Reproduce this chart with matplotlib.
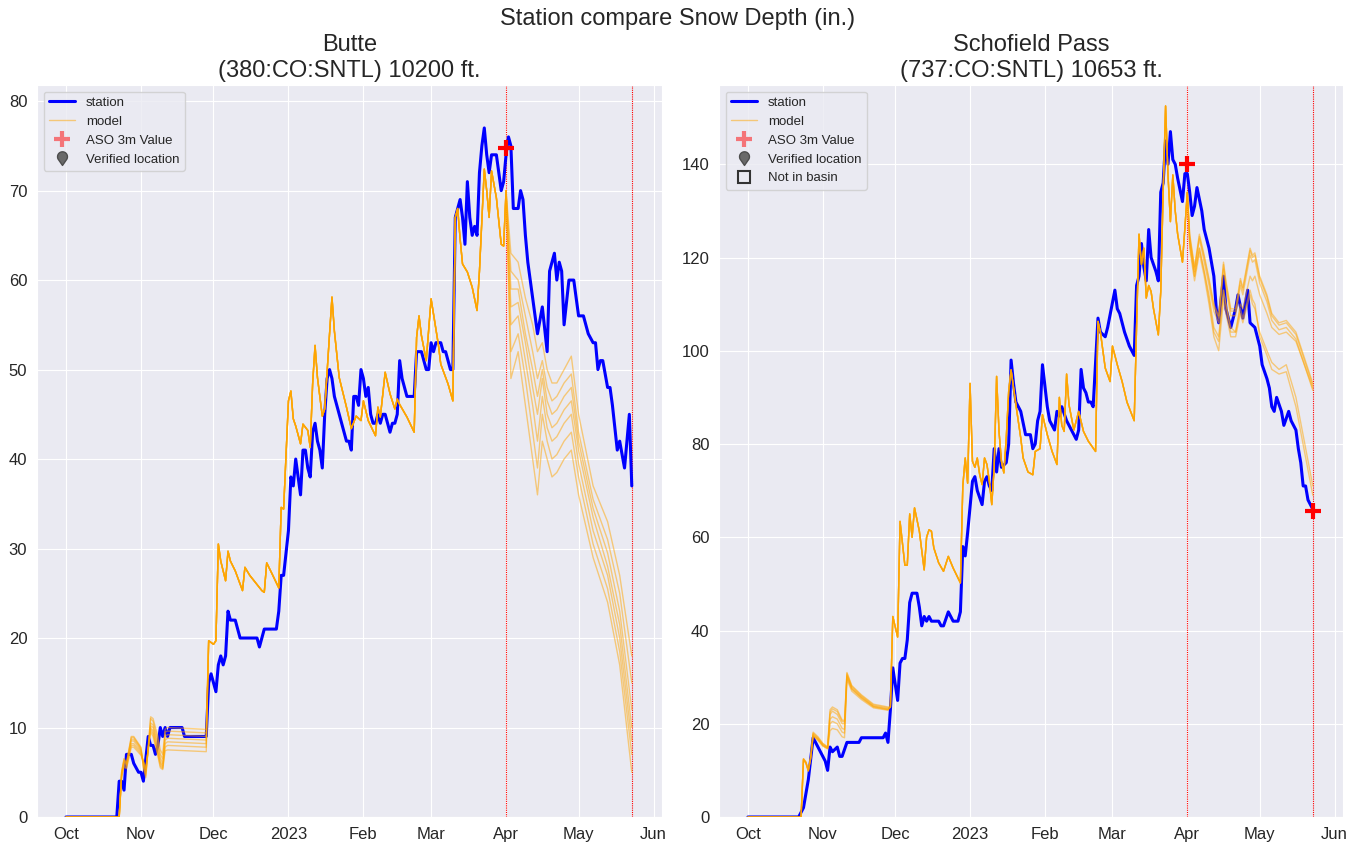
import numpy as np
import pandas as pd
import matplotlib
matplotlib.use("Agg")
import matplotlib.pyplot as plt
import matplotlib.dates as mdates
import seaborn as sns
from matplotlib.lines import Line2D
from matplotlib.path import Path

sns.set_style("darkgrid")
plt.rcParams['font.family'] = ['Liberation Sans', 'DejaVu Sans']

start = pd.Timestamp("2022-10-01")

# ---- Butte (380:CO:SNTL) ----  days counted from 1 Oct 2022, snow depth in inches
butte_station_day = [0, 21, 22, 23, 24, 25, 27, 28, 30, 31, 32, 34, 35, 36, 37, 38, 39, 40, 41, 42, 43, 48, 49, 58,
                     59, 60, 61, 62, 63, 64, 65, 66, 67, 68, 70, 71, 72, 79, 80, 82, 87, 88, 89, 90, 92, 93, 94, 95,
                     97, 98, 99, 100, 101, 102, 103, 104, 105, 106, 107, 108, 109, 110, 111, 113, 116, 117, 118, 119,
                     120, 121, 122, 123, 124, 125, 126, 127, 128, 129, 130, 131, 132, 133, 134, 135, 136, 137, 138,
                     139, 141, 144, 145, 147, 148, 149, 150, 151, 152, 153, 155, 156, 157, 159, 160, 161, 162, 163,
                     164, 165, 166, 167, 168, 169, 170, 171, 172, 173, 174, 175, 176, 178, 179, 180, 181, 182, 183,
                     184, 185, 187, 188, 189, 190, 191, 193, 195, 197, 199, 200, 202, 203, 204, 205, 206, 208, 210,
                     212, 214, 215, 216, 218, 219, 220, 221, 222, 224, 225, 226, 228, 229, 231, 232, 233, 234]
butte_station_val = [0, 0, 4, 4, 3, 7, 7, 6, 5, 5, 4, 9, 8, 8, 7, 8, 10, 9, 10, 9, 10, 10, 9, 9,
                     15, 16, 15, 14, 17, 18, 17, 18, 23, 22, 22, 21, 20, 20, 19, 21, 21, 23, 27, 27, 32, 38, 37, 40,
                     36, 41, 41, 39, 38, 43, 44, 42, 41, 39, 45, 49, 50, 49, 47, 45, 42, 42, 41, 47,
                     47, 46, 50, 49, 47, 48, 45, 44, 44, 45, 44, 45, 45, 44, 43, 44, 44, 45, 51,
                     49, 47, 47, 52, 52, 51, 50, 50, 53, 52, 53, 53, 52, 52, 50, 50, 67, 68, 69,
                     67, 64, 71, 67, 65, 66, 65, 72, 75, 77, 74, 72, 74, 74, 72, 70, 71, 74, 76,
                     75, 68, 68, 70, 69, 65, 62, 58, 54, 57, 52, 61, 63, 60, 62, 61, 55, 60, 60,
                     56, 56, 55, 54, 53, 53, 50, 51, 51, 48, 48, 46, 41, 42, 39, 42, 45, 37]

# model members: early season (spread), shared mid season, spread after 1 April
butte_model_early_day = [0, 22, 23, 24, 25, 27, 28, 30, 31, 32, 33, 35, 36, 38, 39, 40, 41, 42, 58]
butte_model_early = [
    [0, 0, 5, 6.5, 6, 9, 9, 8.2, 7.8, 5.5, 4.4, 11.2, 11, 9, 7.5, 7, 9.8, 10, 9.8],
    [0, 0, 5, 6.5, 6, 8.9, 8.9, 8.1, 7.7, 5.6, 4.6, 11, 10.7, 8.5, 7, 6.5, 9.5, 9.6, 9.4],
    [0, 0, 5, 6.3, 5.9, 8.7, 8.7, 8, 7.5, 5.8, 4.8, 10.5, 10.3, 8, 6.6, 6, 9, 9.2, 9],
    [0, 0, 4.8, 6.2, 5.8, 8.5, 8.5, 7.8, 7.4, 6, 5, 10.2, 10, 7.6, 6.2, 5.7, 8.6, 8.8, 8.6],
    [0, 0, 4.8, 6, 5.7, 8.2, 8.2, 7.6, 7.2, 6.1, 5.2, 10, 9.6, 7.3, 6, 5.5, 8.2, 8.4, 8.2],
    [0, 0, 4.6, 5.8, 5.5, 8, 8, 7.4, 7, 6.2, 5.4, 9.8, 9.3, 7, 5.7, 5.4, 7.8, 8, 7.8],
    [0, 0, 4.5, 5.6, 5.4, 7.8, 7.8, 7.2, 6.9, 6.3, 5.5, 9.5, 9, 6.8, 5.5, 5.3, 7.4, 7.5, 7.3],
]
butte_model_mid_day = [59, 61, 62, 63, 64, 66, 67, 68, 70, 73, 74, 76, 81, 82, 83, 85, 88, 89, 90, 92, 93, 94,
                       95, 97, 98, 100, 101, 102, 103, 104, 106, 107, 109, 110, 111, 113, 116, 118, 120, 122,
                       123, 125, 128, 129, 130, 132, 134, 136, 137, 138, 141, 144, 145, 146, 147, 149, 151, 152,
                       154, 155, 158, 160, 161, 162, 163, 164, 166, 168, 170, 171, 173, 174, 175, 176, 178, 179,
                       180, 181]
butte_model_mid_val = [19.7, 19.3, 19.7, 30.5, 28.6, 26.4, 29.7, 28.6, 27.5, 25.3, 27.9, 27, 25.3, 25.1, 28.4,
                       27.3, 25.6, 34.6, 34.4, 46.5, 47.6, 44.5, 43.7, 41.7, 43.9, 43.2, 41.3, 48.4, 52.7, 49.1,
                       44.8, 45.6, 54, 58.1, 54.3, 49.1, 45.8, 43.4, 44.8, 44.3, 46.5, 44.3, 42.6, 45.8, 44.7,
                       49.7, 47.3, 45.6, 46.7, 46.1, 44.7, 43, 53.6, 56, 53.8, 51, 57.9, 56.2, 52.8, 50.6, 48.4,
                       46.5, 67, 68, 64.6, 61.8, 60.9, 59.2, 56.6, 61, 72.4, 70, 67, 72.2, 69.2, 66.6, 64, 63.8]
butte_model_post_day = [182, 184, 187, 190, 193, 195, 197, 199, 201, 203, 206, 209, 212, 218, 224, 229, 234]
butte_model_post = [
    [70, 63, 62, 58, 55, 52, 53, 50, 48.5, 48.5, 50, 51.5, 45, 37, 33, 27, 18],
    [70, 61, 60, 56, 52, 49, 51, 48, 46.5, 47, 48.5, 49.5, 43, 35.5, 31, 25, 15],
    [70, 59, 59, 54, 50, 47, 50, 46.5, 45, 45.5, 47, 48, 42, 34.5, 29.5, 23, 12],
    [70, 57, 57.5, 53, 48, 45, 49, 45, 43.5, 44, 45.5, 46.5, 41, 33.5, 28, 21.5, 10],
    [70, 55, 56, 51, 46, 42, 47, 43.5, 42, 42.5, 44, 45, 39.5, 32, 27, 20, 8.5],
    [70, 52, 54, 49, 43, 39, 45, 42, 40, 40.5, 42, 43, 38, 30.5, 25.5, 18.5, 7],
    [70, 49, 52, 46, 40, 36, 42, 40, 38, 38.5, 40, 41, 36, 29, 24, 17, 5],
]
butte_aso_day = [182]
butte_aso_val = [74.8]

# ---- Schofield Pass (737:CO:SNTL) ----
scho_station_day = [0, 21, 23, 25, 27, 29, 31, 32, 33, 34, 35, 37, 38, 39, 41, 46, 47, 56, 57, 58, 59, 60, 62, 63,
                    64, 65, 66, 67, 68, 70, 71, 72, 73, 74, 75, 76, 79, 80, 81, 83, 85, 87, 88, 89, 90, 91, 93,
                    94, 95, 97, 98, 99, 100, 101, 102, 103, 104, 105, 107, 108, 109, 110, 111, 113, 115, 117, 118,
                    119, 120, 121, 122, 124, 125, 127, 128, 129, 130, 132, 134, 136, 137, 138, 139, 140, 141, 142,
                    143, 145, 146, 148, 149, 152, 153, 154, 156, 158, 160, 161, 162, 163, 164, 165, 166, 167, 169,
                    170, 171, 172, 173, 174, 175, 176, 177, 178, 180, 181, 182, 183, 184, 185, 186, 188, 189, 191,
                    193, 194, 195, 197, 198, 200, 202, 203, 205, 207, 208, 210, 212, 213, 215, 216, 217, 218, 219,
                    221, 222, 224, 225, 227, 228, 229, 230, 231, 232, 234]
scho_station_val = [0, 0, 2, 8, 17, 15, 13, 12, 10, 15, 14, 15, 13, 13, 16, 16, 17, 17, 18, 16, 23, 32, 25, 33,
                    34, 34, 38, 46, 48, 48, 45, 41, 43, 42, 43, 42, 42, 41, 41, 44, 42, 42, 44, 58, 56, 61, 72,
                    73, 70, 67, 72, 73, 71, 70, 79, 74, 79, 75, 76, 80, 98, 93, 89, 87, 82, 82, 79,
                    80, 85, 87, 97, 88, 85, 83, 87, 86, 88, 85, 83, 81, 83, 96, 92, 91, 89, 89,
                    88, 107, 104, 103, 105, 113, 109, 108, 104, 101, 99, 114, 116, 123, 118, 115, 126, 120, 117,
                    115, 134, 136, 145, 140, 147, 141, 140, 137, 132, 138, 138, 134, 129, 131, 135, 130, 126, 122,
                    116, 109, 106, 116, 109, 105, 109, 112, 107, 113, 106, 105, 101, 97, 94, 92, 88, 87, 90,
                    87, 84, 87, 85, 83, 79, 76, 71, 71, 68, 66]

scho_model_early_day = [0, 22, 23, 24, 25, 26, 27, 29, 31, 33, 34, 35, 37, 39, 40, 41, 43, 47, 52, 58]
scho_model_early = [
    [0, 0, 12.5, 11.8, 10, 13, 18.2, 17.2, 15.8, 15, 23, 23.6, 23, 20.8, 20.7, 31, 28.2, 26.2, 24.2, 23.6],
    [0, 0, 12.5, 11.8, 10, 13, 18, 17, 15.7, 15, 22.5, 23.2, 22.6, 20.5, 20.4, 30.8, 28, 26, 24, 23.4],
    [0, 0, 12.4, 11.7, 10, 12.8, 17.8, 16.8, 15.5, 14.8, 22, 22.7, 22, 20, 20, 30.5, 27.7, 25.8, 23.8, 23.2],
    [0, 0, 12.3, 11.6, 9.9, 12.6, 17.6, 16.7, 15.4, 14.8, 21, 21.5, 21, 19, 18.8, 30.2, 27.5, 25.6, 23.7, 23.1],
    [0, 0, 12.2, 11.5, 9.8, 12.5, 17.3, 16.4, 15.2, 14.6, 18.5, 19, 18.7, 17.2, 17, 29.5, 27, 25.2, 23.4, 22.9],
    [0, 0, 12.3, 11.6, 9.9, 12.7, 17.5, 16.6, 15.3, 14.7, 20, 20.5, 20, 18.2, 18, 30, 27.4, 25.5, 23.6, 23],
]
scho_model_mid_day = [59, 60, 62, 63, 65, 66, 67, 68, 69, 71, 73, 74, 75, 76, 77, 79, 81, 83, 85, 88, 89, 90, 91,
                      92, 93, 94, 95, 96, 97, 98, 99, 100, 101, 102, 103, 104, 105, 106, 107, 108, 109, 111, 113,
                      114, 116, 118, 119, 121, 122, 124, 126, 128, 129, 130, 131, 132, 133, 135, 137, 139, 141,
                      144, 145, 146, 148, 150, 151, 153, 155, 157, 160, 161, 162, 163, 164, 165, 166, 167, 168,
                      170, 171, 172, 173, 174, 175, 176, 177, 178, 180, 181]
scho_model_mid_val = [23.6, 43, 38.6, 63.4, 54, 54, 65, 60, 66.3, 61.3, 53, 60, 61.6, 61.3, 57.7, 54.5, 52.7,
                      55.9, 53.4, 50.2, 71, 77, 71.6, 93, 76.3, 75, 77, 73.4, 71.3, 77, 75.6, 72, 67, 75, 94.5,
                      82.7, 76.3, 73.8, 81.3, 91.3, 95.9, 88.4, 81.3, 77, 74, 73.4, 78.4, 79, 86.3, 82, 78.4,
                      75.6, 90, 84, 82.7, 95, 88.4, 83, 87, 82.7, 80.6, 78.4, 106.3, 104, 96.3, 93.4, 101, 97,
                      93.4, 89, 85, 105.5, 125, 118.5, 122, 111.3, 114, 112.7, 109, 103.4, 112.7, 134, 152.5,
                      137.7, 127.7, 137.7, 130, 125, 119, 126.3]
scho_model_post_day = [182, 183, 185, 187, 189, 191, 193, 195, 197, 198, 200, 202, 204, 205, 208, 209, 210, 212,
                       215, 217, 220, 223, 227, 234]
scho_model_post = [
    [134, 125, 118, 125, 120.5, 115.5, 110, 107.5, 119, 115, 109, 109, 115.5, 113.5, 122, 120.5, 121, 116, 112,
     108, 106, 106.5, 104, 93],
    [134, 124.5, 117.5, 124.5, 120, 115, 109.5, 107, 118.5, 114.5, 108.5, 108.5, 115, 113, 121.5, 120, 120.5,
     115.5, 111.5, 107.5, 105.5, 106, 103.5, 92.5],
    [134, 124, 117, 124, 119, 114, 108.5, 106, 117.5, 113.5, 107.5, 107.5, 114, 112, 120.5, 119, 119.5, 114.5,
     110.5, 106.5, 104.5, 105, 102.5, 91.5],
    [134, 123, 116, 122, 117, 111, 104, 102, 113, 110, 104, 104, 110, 109, 116, 115, 116, 112, 108, 105, 103.5,
     104, 102, 92],
    [134, 123, 116, 122, 117, 112, 105, 103, 113, 110, 105, 104, 109, 107, 113, 111, 110, 103, 99, 96, 95, 95.5,
     88, 69],
    [134, 122, 115, 121, 116, 110, 103, 100, 111, 108, 103, 103, 108, 106, 112, 110, 109, 104, 100, 97.5, 96, 97,
     90, 71],
]
scho_aso_day = [182, 234]
scho_aso_val = [140, 65.7]

aso_lines_day = [182, 234]


def to_dates(days):
    return start + pd.to_timedelta(np.asarray(days, dtype=float), unit="D")


# pin shaped marker for "Verified location"
t = np.linspace(np.radians(-40), np.radians(220), 30)
pin_verts = [(np.cos(a), np.sin(a) + 0.35) for a in t] + [(0, -1.4)]
pin_verts.append(pin_verts[0])
pin = Path(pin_verts, closed=True)


def draw_panel(ax, title, st_day, st_val, early_day, early, mid_day, mid_val, post_day, post,
               aso_day, aso_val, ylim, ystep, not_in_basin=False):
    ax.plot(to_dates(st_day), st_val, color="blue", lw=2.2, zorder=3)
    for e, p in zip(early, post):
        ax.plot(to_dates(early_day + mid_day + post_day), e + mid_val + p,
                color="orange", lw=1, alpha=0.5, zorder=4)
    for d in aso_lines_day:
        ax.axvline(to_dates([d])[0], color="red", lw=0.8, ls=(0, (1, 1)), zorder=2)
    ax.plot(to_dates(aso_day), aso_val, ls="", marker="+", color="red", ms=11, mew=3, zorder=6)

    ax.set_title(title, fontsize=17, pad=6)
    ax.set_ylim(*ylim)
    ax.set_yticks(np.arange(0, ylim[1], ystep))
    ax.set_xlim(to_dates([-12])[0], to_dates([246.5])[0])
    loc = mdates.MonthLocator()
    ax.xaxis.set_major_locator(loc)
    ax.xaxis.set_major_formatter(mdates.ConciseDateFormatter(loc))
    ax.tick_params(labelsize=12)

    handles = [
        Line2D([], [], color="blue", lw=2.2, label="station"),
        Line2D([], [], color="orange", lw=1, alpha=0.5, label="model"),
        Line2D([], [], ls="", marker="+", color="red", alpha=0.5, ms=11, mew=3, label="ASO 3m Value"),
        Line2D([], [], ls="", marker=pin, color="dimgray", mec="0.3", ms=10, label="Verified location"),
    ]
    if not_in_basin:
        handles.append(Line2D([], [], ls="", marker="s", mfc="none", mec="0.2", mew=1.5, ms=8,
                              label="Not in basin"))
    ax.legend(handles=handles, loc="upper left", fontsize=9.5)


fig = plt.figure(figsize=(13.55, 8.47), dpi=100)
ax1 = fig.add_axes([37 / 1355, 30 / 847, 625 / 1355, 732 / 847])
ax2 = fig.add_axes([719 / 1355, 30 / 847, 624 / 1355, 732 / 847])

draw_panel(ax1, "Butte\n(380:CO:SNTL) 10200 ft.", butte_station_day, butte_station_val,
           butte_model_early_day, butte_model_early, butte_model_mid_day, butte_model_mid_val,
           butte_model_post_day, butte_model_post, butte_aso_day, butte_aso_val, (0, 81.8), 10)
draw_panel(ax2, "Schofield Pass\n(737:CO:SNTL) 10653 ft.", scho_station_day, scho_station_val,
           scho_model_early_day, scho_model_early, scho_model_mid_day, scho_model_mid_val,
           scho_model_post_day, scho_model_post, scho_aso_day, scho_aso_val, (0, 157), 20,
           not_in_basin=True)

fig.suptitle("Station compare Snow Depth (in.)", fontsize=17, y=0.99)

fig.savefig("out.png", dpi=100)
